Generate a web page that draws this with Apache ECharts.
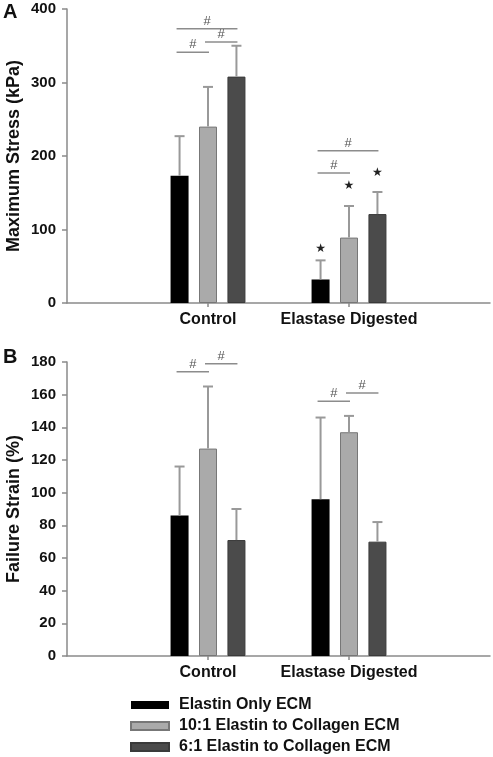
<!DOCTYPE html>
<html>
<head>
<meta charset="utf-8">
<script src="https://cdn.jsdelivr.net/npm/echarts@6/dist/echarts.min.js"></script>
<style>html,body{margin:0;padding:0;background:#fff}#c{width:493px;height:757px}</style>
</head>
<body>
<div id="c"></div>
<script>
// ---- data ----
const categories = ['', 'Control', 'Elastase Digested', ''];
const groups = ['Control', 'Elastase Digested'];
const seriesNames = ['Elastin Only ECM', '10:1 Elastin to Collagen ECM', '6:1 Elastin to Collagen ECM'];
// Panel A: Maximum Stress (kPa)
const stressElastin = [173, 32];
const stressTen = [240, 89];
const stressSix = [308, 121];
const stressElastinErr = [54, 26];
const stressTenErr = [54, 43];
const stressSixErr = [42, 30];
// Panel B: Failure Strain (%)
const strainElastin = [86, 96];
const strainTen = [127, 137];
const strainSix = [71, 70];
const strainElastinErr = [30, 50];
const strainTenErr = [38, 10];
const strainSixErr = [19, 12];
// significance brackets: [group, fromSeries, toSeries, yValue]
const bracketsA = [
  ['Control', 0, 2, 373], ['Control', 0, 1, 341], ['Control', 1, 2, 355],
  ['Elastase Digested', 0, 2, 207], ['Elastase Digested', 0, 1, 177]
];
const bracketsB = [
  ['Control', 0, 1, 174], ['Control', 1, 2, 179],
  ['Elastase Digested', 0, 1, 156], ['Elastase Digested', 1, 2, 161]
];
// stars vs control: [group, series, yValue]
const starsA = [['Elastase Digested', 0, 73], ['Elastase Digested', 1, 159], ['Elastase Digested', 2, 177]];
const yTicksA = [0, 100, 400]; // min, interval, max
const yTicksB = [0, 20, 180];

// ---- style ----
const FONT = 'Liberation Sans, Arial, Helvetica, sans-serif';
const colors = ['#000000', '#aaaaaa', '#4b4b4b'];
const borders = ['#000000', '#777777', '#3a3a3a'];
const AXIS_C = '#8a8a8a';
const BAR_W = 18, BAR_GAP = 0.58;
function barOffset(s) { return (s - 1) * BAR_W * (1 + BAR_GAP); }

const chart = echarts.init(document.getElementById('c'));

function xAxisFor(gi) {
  return {
    type: 'category', gridIndex: gi, data: categories, boundaryGap: false,
    axisLine: { lineStyle: { color: AXIS_C, width: 1.5 } },
    axisTick: { show: true, length: 4, interval: (i, v) => v !== '', lineStyle: { color: AXIS_C, width: 1.5 } },
    axisLabel: { interval: 0, margin: 9, fontFamily: FONT, fontSize: 16, fontWeight: 'bold', color: '#111' },
    splitLine: { show: false }
  };
}
function yAxisFor(gi, t, name) {
  return {
    type: 'value', gridIndex: gi, min: t[0], max: t[2], interval: t[1],
    name: name, nameLocation: 'middle', nameGap: 44, nameMoveOverlap: false,
    nameTextStyle: { fontFamily: FONT, fontSize: 18, fontWeight: 'bold', color: '#111' },
    axisLine: { show: true, lineStyle: { color: AXIS_C, width: 1.5 } },
    axisTick: { show: true, length: 5, lineStyle: { color: AXIS_C, width: 1.5 } },
    axisLabel: { margin: 11, fontFamily: FONT, fontSize: 15, fontWeight: 'bold', color: '#111' },
    splitLine: { show: false }
  };
}
function barSeries(gi, s, vals) {
  return {
    type: 'bar', name: seriesNames[s], xAxisIndex: gi, yAxisIndex: gi,
    barWidth: BAR_W, barGap: (BAR_GAP * 100) + '%',
    itemStyle: { color: colors[s], borderColor: borders[s], borderWidth: s === 0 ? 0 : 1 },
    data: groups.map((g, i) => [g, vals[i]]),
    emphasis: { disabled: true }
  };
}
function errSeries(gi, means, errs) {
  const data = [];
  means.forEach((m, s) => groups.forEach((g, i) => data.push([g, m[i], errs[s][i], s])));
  return {
    type: 'custom', name: 'err' + gi, xAxisIndex: gi, yAxisIndex: gi, z: 3,
    encode: { x: 0, y: 1 }, data: data, silent: true,
    renderItem: function (params, api) {
      const c0 = api.coord([api.value(0), api.value(1)]);
      const c1 = api.coord([api.value(0), api.value(1) + api.value(2)]);
      const x = c0[0] + barOffset(api.value(3));
      const st = { stroke: '#999999', lineWidth: 2 };
      return { type: 'group', children: [
        { type: 'line', shape: { x1: x, y1: c0[1], x2: x, y2: c1[1] }, style: st },
        { type: 'line', shape: { x1: x - 5, y1: c1[1], x2: x + 5, y2: c1[1] }, style: st }
      ] };
    }
  };
}
function bracketSeries(gi, br) {
  return {
    type: 'custom', name: 'br' + gi, xAxisIndex: gi, yAxisIndex: gi, z: 4,
    encode: { x: 0, y: 3 }, data: br, silent: true, clip: false,
    renderItem: function (params, api) {
      const c = api.coord([api.value(0), api.value(3)]);
      const xa = c[0] + barOffset(api.value(1)) - 3;
      const xb = c[0] + barOffset(api.value(2)) + 1;
      return { type: 'group', children: [
        { type: 'line', shape: { x1: xa, y1: c[1], x2: xb, y2: c[1] }, style: { stroke: '#8c8c8c', lineWidth: 1.5 } },
        { type: 'text', x: (xa + xb) / 2, y: c[1] - 1,
          style: { text: '#', fontFamily: FONT, fontSize: 13, fill: '#555', align: 'center', verticalAlign: 'bottom' } }
      ] };
    }
  };
}
function starSeries(gi, st) {
  return {
    type: 'custom', name: 'star' + gi, xAxisIndex: gi, yAxisIndex: gi, z: 4,
    encode: { x: 0, y: 2 }, data: st, silent: true,
    renderItem: function (params, api) {
      const c = api.coord([api.value(0), api.value(2)]);
      return { type: 'text', x: c[0] + barOffset(api.value(1)), y: c[1],
        style: { text: '★', fontFamily: 'DejaVu Sans', fontSize: 12, fill: '#222', align: 'center', verticalAlign: 'middle' } };
    }
  };
}

const option = {
  animation: false,
  backgroundColor: '#ffffff',
  grid: [
    { left: 67, right: 3, top: 9, height: 294, outerBoundsMode: 'none', containLabel: false },
    { left: 67, right: 3, top: 362, height: 294, outerBoundsMode: 'none', containLabel: false }
  ],
  xAxis: [xAxisFor(0), xAxisFor(1)],
  yAxis: [yAxisFor(0, yTicksA, 'Maximum Stress (kPa)'), yAxisFor(1, yTicksB, 'Failure Strain (%)')],
  legend: {
    data: seriesNames, orient: 'vertical', left: 130, top: 697, padding: 0, height: 70,
    icon: 'rect', itemWidth: 38, itemHeight: 8, itemGap: 5, selectedMode: false,
    textStyle: { fontFamily: FONT, fontSize: 16, fontWeight: 'bold', color: '#111', lineHeight: 16, padding: [0, 0, 0, 5] }
  },
  graphic: [
    { type: 'text', left: 3, top: 2, style: { text: 'A', fontFamily: FONT, fontSize: 20, fontWeight: 'bold', fill: '#111' } },
    { type: 'text', left: 3, top: 347, style: { text: 'B', fontFamily: FONT, fontSize: 20, fontWeight: 'bold', fill: '#111' } }
  ],
  series: [
    barSeries(0, 0, stressElastin), barSeries(0, 1, stressTen), barSeries(0, 2, stressSix),
    barSeries(1, 0, strainElastin), barSeries(1, 1, strainTen), barSeries(1, 2, strainSix),
    errSeries(0, [stressElastin, stressTen, stressSix], [stressElastinErr, stressTenErr, stressSixErr]),
    errSeries(1, [strainElastin, strainTen, strainSix], [strainElastinErr, strainTenErr, strainSixErr]),
    bracketSeries(0, bracketsA), bracketSeries(1, bracketsB),
    starSeries(0, starsA)
  ]
};
chart.setOption(option);
</script>
</body>
</html>
